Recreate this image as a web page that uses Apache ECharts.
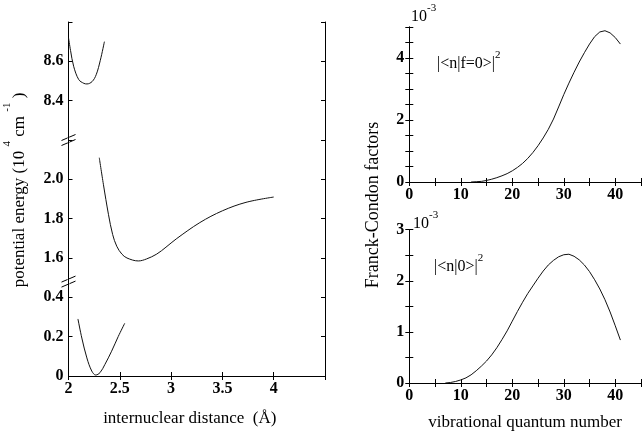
<!DOCTYPE html>
<html>
<head>
<meta charset="utf-8">
<script src="https://cdn.jsdelivr.net/npm/echarts@6/dist/echarts.min.js"></script>
<style>
  html, body { margin: 0; padding: 0; background: #fff; }
  #chart { width: 644px; height: 432px; }
</style>
</head>
<body>
<div id="chart"></div>
<script>
// potential curves, r in Angstrom, E in 10^4 cm^-1
const upperR = [2.00, 2.02, 2.05, 2.10, 2.15, 2.18, 2.23, 2.27, 2.31, 2.35];
const upperE = [8.72, 8.655, 8.575, 8.507, 8.488, 8.485, 8.497, 8.532, 8.605, 8.70];
const midR = [2.30, 2.34, 2.39, 2.43, 2.47, 2.52, 2.57, 2.68, 2.76, 2.86, 2.95, 3.05, 3.28, 3.50, 3.73, 4.00];
const midE = [2.11, 1.975, 1.82, 1.72, 1.66, 1.62, 1.60, 1.585, 1.595, 1.62, 1.655, 1.697, 1.78, 1.84, 1.883, 1.91];
const groundR = [2.092, 2.130, 2.179, 2.227, 2.265, 2.307, 2.355, 2.420, 2.485, 2.548];
const groundE = [0.290, 0.193, 0.092, 0.025, 0.005, 0.017, 0.059, 0.126, 0.201, 0.268];

// broken energy axis: each segment is shifted down by its offset
const upperShift = 7.0;
const midShift = 1.0;
const energyTickLabels = ['0', '0.2', '0.4', '1.6', '1.8', '2.0', '', '8.4', '8.6', ''];
const breaksAt = [0.48, 1.2]; // in shifted units

// Franck-Condon factors (x 10^-3)
const nTop = [12, 13, 14, 15, 16, 17, 18, 19, 20, 21, 22, 23, 24, 25, 26, 27, 28, 29, 30, 31, 32, 33, 34, 35, 36, 37, 38, 39, 40, 41];
const fcTop = [0.00, 0.01, 0.02, 0.05, 0.09, 0.14, 0.20, 0.27, 0.36, 0.47, 0.60, 0.76, 0.95, 1.17, 1.42, 1.70, 2.03, 2.42, 2.82, 3.19, 3.54, 3.87, 4.17, 4.45, 4.69, 4.84, 4.88, 4.81, 4.66, 4.45];
const nBottom = [7, 8, 9, 10, 11, 12, 13, 14, 15, 16, 17, 18, 19, 20, 21, 22, 23, 24, 25, 26, 27, 28, 29, 30, 31, 32, 33, 34, 35, 36, 37, 38, 39, 40, 41];
const fcBottom = [0.00, 0.01, 0.03, 0.06, 0.10, 0.16, 0.24, 0.33, 0.43, 0.55, 0.69, 0.85, 1.02, 1.21, 1.40, 1.58, 1.75, 1.90, 2.05, 2.19, 2.31, 2.40, 2.47, 2.51, 2.52, 2.48, 2.41, 2.31, 2.18, 2.02, 1.84, 1.63, 1.39, 1.12, 0.84];

const FONT = 'Liberation Serif';
const chart = echarts.init(document.getElementById('chart'));

const tickLabel = { color: '#000', fontFamily: FONT, fontSize: 16, fontWeight: 'bold', margin: 5 };
const nameStyle = { color: '#000', fontFamily: FONT, fontSize: 17 };
const frameLine = { show: true, lineStyle: { color: '#000', width: 1 } };
const tickIn = { show: true, inside: true, length: 4, lineStyle: { color: '#000' } };

function frameAxis(gridIndex, position, extra) {
  return Object.assign({
    gridIndex, position, type: 'value',
    axisLine: frameLine, axisTick: tickIn,
    axisLabel: { show: false }, splitLine: { show: false }
  }, extra);
}

const lineStyle = { color: '#111', width: 1 };
function curve(xi, yi, xs, ys, shift, smooth) {
  return {
    type: 'line', xAxisIndex: xi, yAxisIndex: yi,
    smooth, symbol: 'none',
    lineStyle, data: xs.map((x, i) => [x, ys[i] - shift])
  };
}

const option = {
  animation: false,
  grid: [
    { left: 68.5, top: 22, width: 256.5, height: 358 },
    { left: 409.3, top: 27, width: 240, height: 155 },
    { left: 409.3, top: 229.7, width: 240, height: 154 }
  ],
  xAxis: [
    frameAxis(0, 'bottom', {
      min: 2, max: 4.5, interval: 0.5,
      axisLabel: Object.assign({}, tickLabel, { formatter: v => v === 4.5 ? '' : v }),
      name: 'internuclear distance  (Å)', nameLocation: 'middle', nameGap: 34,
      nameTextStyle: Object.assign({ padding: [0, 14, 0, 0] }, nameStyle)
    }),
    frameAxis(0, 'top', { min: 2, max: 4.5, interval: 0.5 }),
    frameAxis(1, 'bottom', {
      min: 0, max: 45, interval: 5,
      axisLabel: Object.assign({}, tickLabel, { formatter: v => (v % 10 === 0 && v < 45) ? v : '' })
    }),
    frameAxis(1, 'top', { min: 0, max: 45, interval: 5 }),
    frameAxis(2, 'bottom', {
      min: 0, max: 45, interval: 5,
      axisLabel: Object.assign({}, tickLabel, { formatter: v => (v % 10 === 0 && v < 45) ? v : '' }),
      name: 'vibrational quantum number', nameLocation: 'middle', nameGap: 31,
      nameTextStyle: nameStyle
    }),
    frameAxis(2, 'top', { min: 0, max: 45, interval: 5 })
  ],
  yAxis: [
    frameAxis(0, 'left', {
      min: 0, max: 1.8, interval: 0.2,
      axisLabel: Object.assign({}, tickLabel, { formatter: v => energyTickLabels[Math.round(v / 0.2)] }),
      name: '{t|potential energy (10 }{s|4}{t| cm }{s|-1}{t| )}', nameLocation: 'middle', nameGap: 40,
      nameTextStyle: {
        color: '#000', fontFamily: FONT, fontSize: 17, padding: [0, 0, 0, 18],
        rich: {
          t: { fontFamily: FONT, fontSize: 17, lineHeight: 27, verticalAlign: 'bottom' },
          s: { fontFamily: FONT, fontSize: 11, lineHeight: 27, verticalAlign: 'top' }
        }
      }
    }),
    frameAxis(0, 'right', { min: 0, max: 1.8, interval: 0.2 }),
    frameAxis(1, 'left', {
      min: 0, max: 5, interval: 0.5,
      axisLabel: Object.assign({}, tickLabel, { formatter: v => (v % 2 === 0 && v < 5) ? v : '' })
    }),
    frameAxis(1, 'right', { min: 0, max: 5, interval: 0.5 }),
    frameAxis(2, 'left', {
      min: 0, max: 3, interval: 0.5,
      axisLabel: Object.assign({}, tickLabel, { formatter: v => Number.isInteger(v) ? v : '' })
    }),
    frameAxis(2, 'right', { min: 0, max: 3, interval: 0.5 })
  ],
  series: [
    curve(0, 0, upperR, upperE, upperShift, 0.35),
    curve(0, 0, midR, midE, midShift, 0.35),
    curve(0, 0, groundR, groundE, 0, 0.35),
    curve(2, 2, nTop, fcTop, 0, false),
    curve(4, 4, nBottom, fcBottom, 0, false)
  ]
};
chart.setOption(option);

const sup = {
  b: { fontFamily: FONT, fontSize: 16, lineHeight: 22, verticalAlign: 'bottom', fill: '#000' },
  p: { fontFamily: FONT, fontSize: 11, lineHeight: 22, verticalAlign: 'top', fill: '#000' }
};
const graphics = [
  { type: 'text', left: 411, top: 3, style: { text: '{b|10}{p|-3}', rich: sup } },
  { type: 'text', left: 413, top: 210, style: { text: '{b|10}{p|-3}', rich: sup } },
  { type: 'text', left: 437, top: 50, style: { text: '{b||<n|f=0>|}{p|2}', rich: sup } },
  { type: 'text', left: 434, top: 253, style: { text: '{b||<n|0>|}{p|2}', rich: sup } },
  {
    type: 'text', x: 373, y: 205, rotation: Math.PI / 2,
    style: { text: 'Franck-Condon factors', font: '18px "Liberation Serif"', fill: '#000', align: 'center', verticalAlign: 'middle' }
  }
];
// axis break marks on the energy axis
breaksAt.forEach(v => {
  const p = chart.convertToPixel({ xAxisIndex: 0, yAxisIndex: 0 }, [2, v]);
  [-2.5, 2.5].forEach(dy => {
    graphics.push({
      type: 'line',
      shape: { x1: p[0] - 7, y1: p[1] + dy + 3, x2: p[0] + 7, y2: p[1] + dy - 3 },
      style: { stroke: '#000', lineWidth: 1 }
    });
  });
  graphics.push({
    type: 'line',
    shape: { x1: p[0], y1: p[1] - 2.5, x2: p[0], y2: p[1] + 2.5 },
    style: { stroke: '#fff', lineWidth: 2 }
  });
});
chart.setOption({ graphic: graphics });
</script>
</body>
</html>
